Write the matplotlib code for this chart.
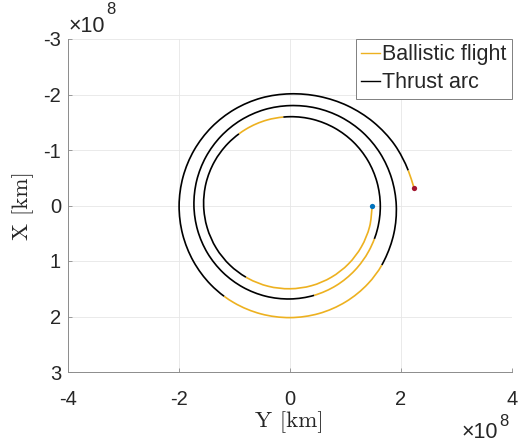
import numpy as np
import matplotlib
matplotlib.use('Agg')
import matplotlib.pyplot as plt
from matplotlib.ticker import FuncFormatter
from matplotlib.lines import Line2D
from matplotlib.path import Path
from matplotlib.patches import PathPatch

# swept polar angle along the transfer [deg] and distance from the centre [1e8 km]
theta_deg = [
    0, 15, 30, 45, 60, 75, 90, 105, 120, 121.6, 135, 150,
    165, 180, 195, 210, 225, 234.6, 240, 255, 265.7, 270, 285, 300,
    315, 330, 345, 360, 375, 381.6, 390, 405, 420, 435, 450, 465,
    480, 495, 510, 525, 540, 555, 570, 585, 600, 615, 630, 645,
    660, 675, 690, 705, 720, 735, 750, 753, 765, 780, 795, 810,
    825, 840, 846, 855, 870, 885, 900, 915, 930, 945, 960, 975,
    990, 1005, 1020, 1035, 1050, 1063.5, 1072,
]
radius = [
    1.483, 1.484, 1.486, 1.489, 1.492, 1.496, 1.500, 1.507, 1.515, 1.516, 1.525, 1.535,
    1.545, 1.556, 1.566, 1.574, 1.581, 1.585, 1.588, 1.595, 1.598, 1.600, 1.606, 1.611,
    1.616, 1.620, 1.623, 1.627, 1.632, 1.635, 1.640, 1.652, 1.665, 1.676, 1.684, 1.692,
    1.700, 1.708, 1.716, 1.723, 1.731, 1.740, 1.750, 1.762, 1.775, 1.788, 1.800, 1.818,
    1.838, 1.858, 1.877, 1.895, 1.915, 1.938, 1.965, 1.972, 1.990, 2.005, 2.015, 2.020,
    2.022, 2.022, 2.021, 2.018, 2.010, 2.003, 1.998, 1.995, 1.995, 1.997, 2.000, 2.005,
    2.012, 2.035, 2.075, 2.125, 2.180, 2.222, 2.257,
]

# flight phases as swept-angle intervals [deg]
phase_start = [0.0, 121.6, 234.6, 265.7, 381.6, 435.0, 753.0, 846.0, 1063.5]
phase_end = [121.6, 234.6, 265.7, 381.6, 435.0, 753.0, 846.0, 1063.5, 1072.0]
phase_thrust = [False, True, False, True, False, True, False, True, False]

ballistic_color = '#EDB120'
thrust_color = 'k'
FONT = 'Liberation Sans'
TXT = '#262626'

theta_deg = np.array(theta_deg, dtype=float)
th = np.radians(theta_deg)
r = np.array(radius) * 1e8
Y = r * np.cos(th)
X = r * np.sin(th)
pts = np.column_stack([Y, X])

# tangent per degree of sweep, used to draw each arc as cubic pieces
tan = np.gradient(pts, theta_deg, axis=0)


def arc_path(i0, i1):
    verts = [pts[i0]]
    codes = [Path.MOVETO]
    for i in range(i0, i1):
        h = theta_deg[i + 1] - theta_deg[i]
        verts += [pts[i] + tan[i] * h / 3, pts[i + 1] - tan[i + 1] * h / 3, pts[i + 1]]
        codes += [Path.CURVE4] * 3
    return Path(verts, codes)


fig = plt.figure(figsize=(5.18, 4.43), dpi=100)
ax = fig.add_axes([68 / 518, 1 - 372 / 443, 444 / 518, 333 / 443])

for a, b, thrust in zip(phase_start, phase_end, phase_thrust):
    i0 = int(np.argmin(abs(theta_deg - a)))
    i1 = int(np.argmin(abs(theta_deg - b)))
    ax.add_patch(PathPatch(arc_path(i0, i1), fill=False, lw=1.2, capstyle='butt',
                           edgecolor=thrust_color if thrust else ballistic_color))

# departure and arrival points
ax.plot(Y[0], X[0], 'o', color='#0072BD', ms=3.8, mec='none')
ax.plot(Y[-1], X[-1], 'o', color='#A2142F', ms=3.8, mec='none')

ax.set_xlim(-4e8, 4e8)
ax.set_ylim(3e8, -3e8)
ax.set_xticks(np.arange(-4, 5, 2) * 1e8)
ax.set_yticks(np.arange(-3, 4, 1) * 1e8)
fmt = FuncFormatter(lambda v, pos: f'{v / 1e8:g}')
ax.xaxis.set_major_formatter(fmt)
ax.yaxis.set_major_formatter(fmt)

ax.grid(True, color='#e6e6e6', lw=0.6)
ax.set_axisbelow(True)
for s in ['top', 'right']:
    ax.spines[s].set_visible(False)
for s in ['left', 'bottom']:
    ax.spines[s].set_color('0.55')
    ax.spines[s].set_linewidth(0.7)
ax.tick_params(direction='in', length=3, width=0.6, color='0.55',
               labelsize=14.5, labelcolor=TXT)
ax.tick_params(axis='x', pad=13)
ax.tick_params(axis='y', pad=5)
for lab in ax.get_xticklabels() + ax.get_yticklabels():
    lab.set_family(FONT)

ax.set_xlabel('Y [km]', family='cmr10', fontsize=16.5, color=TXT)
ax.set_ylabel('X [km]', family='cmr10', fontsize=16.5, color=TXT)
ax.xaxis.set_label_coords(0.498, -0.15)
ax.yaxis.set_label_coords(-0.10, 0.5)
ax.xaxis.label.set_va('center')
ax.yaxis.label.set_va('center')

# axis multipliers
fig.text(462 / 518, 1 - 432 / 443, '\u00d710', fontsize=15.5, family=FONT,
         color=TXT, va='center', ha='left')
fig.text(499 / 518, 1 - 421 / 443, '8', fontsize=12, family=FONT,
         color=TXT, va='center', ha='left')
fig.text(69 / 518, 1 - 26 / 443, '\u00d710', fontsize=15.5, family=FONT,
         color=TXT, va='center', ha='left')
fig.text(106 / 518, 1 - 9 / 443, '8', fontsize=12, family=FONT,
         color=TXT, va='center', ha='left')

handles = [Line2D([], [], color=ballistic_color, lw=1.0),
           Line2D([], [], color=thrust_color, lw=1.0)]
leg = ax.legend(handles, ['Ballistic flight', 'Thrust arc'], loc='upper right',
                bbox_to_anchor=(1.0, 1.0), borderaxespad=0, handlelength=0.85,
                handletextpad=0.12, labelspacing=0.33, borderpad=0.25,
                fancybox=False, framealpha=1,
                prop={'family': FONT, 'size': 15.5})
leg.get_frame().set_edgecolor('0.5')
leg.get_frame().set_linewidth(0.7)
for t in leg.get_texts():
    t.set_color(TXT)

fig.savefig('out.png', dpi=100)
